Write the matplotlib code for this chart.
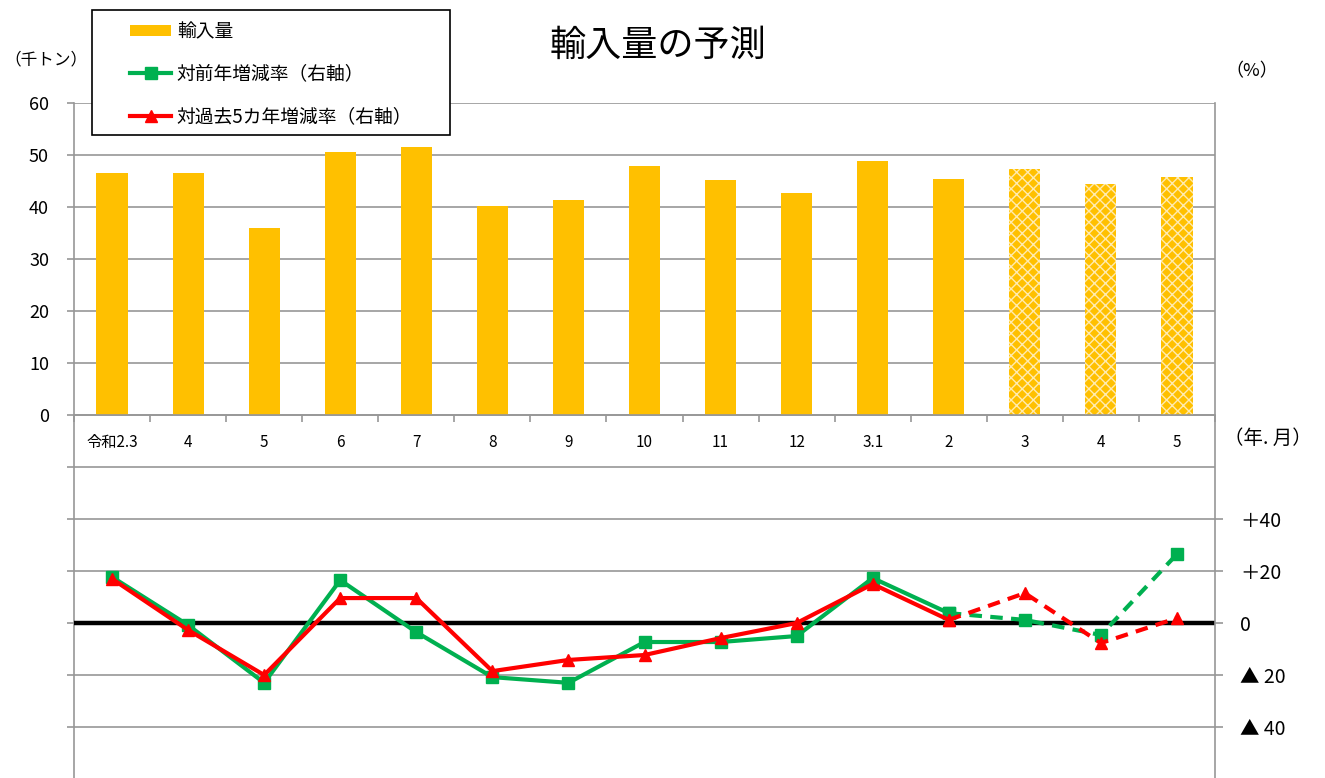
import numpy as np
import matplotlib.pyplot as plt
from matplotlib.patches import Patch, Rectangle
from matplotlib.lines import Line2D

plt.rcParams['font.family'] = ['Noto Sans CJK JP', 'DejaVu Sans']
plt.rcParams['hatch.linewidth'] = 1.0

# data
months = ['令和2.3', '4', '5', '6', '7', '8', '9', '10', '11', '12', '3.1', '2', '3', '4', '5']
imports = [46.5, 46.5, 36.0, 50.6, 51.5, 40.2, 41.3, 47.9, 45.2, 42.7, 48.8, 45.4, 47.3, 44.4, 45.8]
yoy = [17.7, -0.8, -23.0, 16.5, -3.5, -20.8, -23.0, -7.3, -7.3, -5.0, 17.3, 3.8, 1.2, -4.6, 26.5]
vs5y = [17.0, -2.7, -20.0, 9.6, 9.6, -18.5, -14.2, -12.3, -5.8, 0.0, 15.0, 1.2, 11.5, -7.7, 1.9]
n_actual = 12  # first forecast index

right_ticks = [-40, -20, 0, 20, 40]
right_labels = ['▲ 40', '▲ 20', '0', '＋20', '＋40']

bar_color = '#FFC000'
green = '#00B050'
red = '#FF0000'
grid_color = '#979797'

fig = plt.figure(figsize=(13.25, 7.78), dpi=100)
ax = fig.add_axes([74 / 1325, 0, (1215 - 74) / 1325, 1 - 103 / 778])
x = np.arange(len(months))

for i, v in enumerate(imports):
    if i < n_actual:
        ax.bar(x[i], v, width=0.41, color=bar_color, zorder=2)
    else:
        ax.bar(x[i], v, width=0.41, facecolor=bar_color, edgecolor='#FFEBB0',
               hatch='xxx', linewidth=0, zorder=2)

ax.set_xlim(-0.5, len(months) - 0.5)
ax.set_ylim(-69.8, 60)
grid_vals = np.arange(-60, 61, 10)
ax.set_yticks(grid_vals)
ax.set_yticklabels([str(v) if v >= 0 else '' for v in grid_vals], fontsize=13)
for g in grid_vals:
    ax.axhline(g, color=grid_color, lw=1.2, zorder=1)
ax.tick_params(axis='y', length=5, color=grid_color, width=1.2, pad=13)

ax.spines['top'].set_visible(False)
ax.spines['right'].set_visible(False)
ax.spines['left'].set_color(grid_color)
ax.spines['left'].set_linewidth(1.2)
ax.spines['bottom'].set_position(('data', 0))
ax.spines['bottom'].set_color(grid_color)
ax.spines['bottom'].set_linewidth(1.2)
ax.set_xticks(x)
ax.set_xticklabels(months, fontsize=11)
ax.set_xticks(np.arange(-0.5, len(months), 1), minor=True)
ax.tick_params(axis='x', which='major', length=0, pad=14)
ax.tick_params(axis='x', which='minor', length=5, direction='out',
               color=grid_color, width=1.2)

ax2 = ax.twinx()
ax2.set_ylim(-59.6, 200)
ax2.set_yticks(right_ticks)
ax2.set_yticklabels(right_labels, fontsize=14)
ax2.tick_params(axis='y', length=6, color=grid_color, width=1.2, pad=12)
for s in ['top', 'left', 'bottom']:
    ax2.spines[s].set_visible(False)
ax2.spines['right'].set_color(grid_color)
ax2.spines['right'].set_linewidth(1.2)
ax2.axhline(0, color='black', lw=3.2, zorder=2)

k = n_actual
ax2.plot(x[:k], yoy[:k], color=green, lw=3, marker='s', ms=8, zorder=3)
ax2.plot(x[k - 1:], yoy[k - 1:], color=green, lw=3, ls=(0, (3, 2)), marker='s', ms=8, zorder=3)
ax2.plot(x[:k], vs5y[:k], color=red, lw=3, marker='^', ms=9, zorder=4)
ax2.plot(x[k - 1:], vs5y[k - 1:], color=red, lw=3, ls=(0, (3, 2)), marker='^', ms=9, zorder=4)

fig.text(658 / 1325, 1 - 46 / 778, '輸入量の予測', fontsize=26, ha='center', va='center')
fig.text(46 / 1325, 1 - 60 / 778, '（千トン）', fontsize=12, ha='center', va='center')
fig.text(1252 / 1325, 1 - 71 / 778, '（%）', fontsize=13, ha='center', va='center')
fig.text(1268 / 1325, 1 - 438 / 778, '（年. 月）', fontsize=14, ha='center', va='center')

# legend box drawn separately so its padding can match
fig.patches.append(Rectangle((92 / 1325, 1 - 135 / 778), (450 - 92) / 1325, 125 / 778,
                             transform=fig.transFigure, facecolor='white',
                             edgecolor='black', lw=1.2, zorder=9))
handles = [
    Patch(facecolor=bar_color, edgecolor='none'),
    Line2D([0], [0], color=green, lw=3, marker='s', ms=8),
    Line2D([0], [0], color=red, lw=3, marker='^', ms=9),
]
labels = ['輸入量', '対前年増減率（右軸）', '対過去5カ年増減率（右軸）']
leg = fig.legend(handles, labels, loc='upper left',
                 bbox_to_anchor=(128 / 1325, 1 - 19 / 778), fontsize=13.5,
                 frameon=False, handlelength=2.2, handleheight=0.55,
                 labelspacing=1.15, borderpad=0.1, handletextpad=0.3,
                 borderaxespad=0)
leg.set_zorder(10)

fig.savefig('out.png', dpi=100)
